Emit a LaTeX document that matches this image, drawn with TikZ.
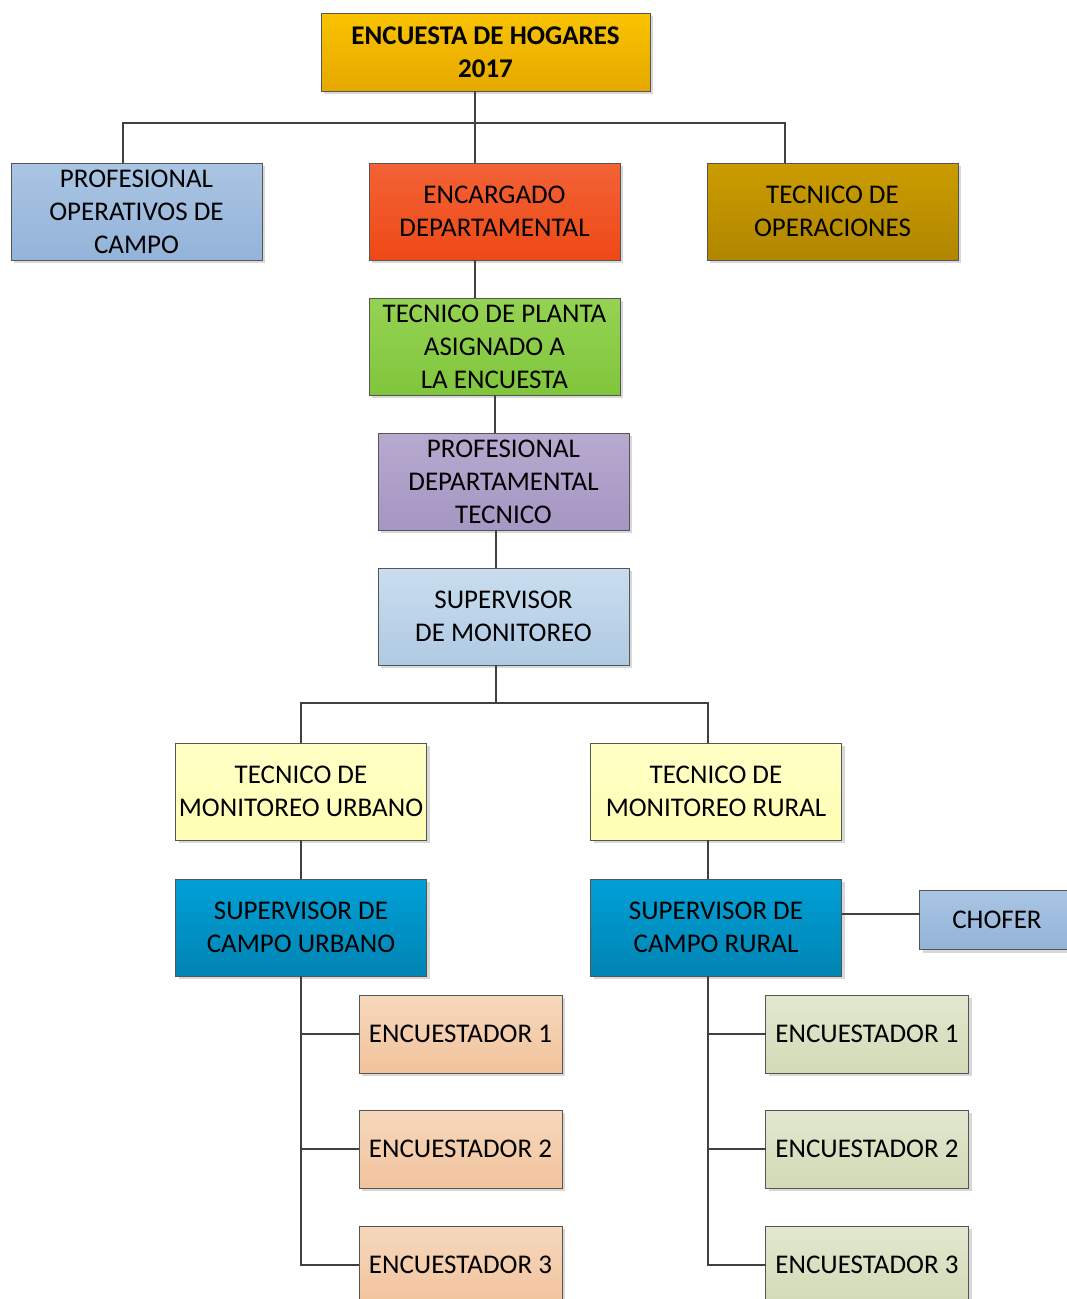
\documentclass[tikz,border=0pt]{standalone}
\usepackage{fontspec}
\setmainfont{Carlito}
\usepackage{xcolor}
\usetikzlibrary{positioning,shadows}

\definecolor{boxline}{HTML}{555555}
\definecolor{linkgray}{HTML}{404040}
\definecolor{goldtop}{HTML}{F9C300}
\definecolor{goldbot}{HTML}{E6A800}
\definecolor{skytop}{HTML}{AAC5E4}
\definecolor{skybot}{HTML}{93B3D8}
\definecolor{redtop}{HTML}{F36236}
\definecolor{redbot}{HTML}{EE4916}
\definecolor{ochretop}{HTML}{CB9C00}
\definecolor{ochrebot}{HTML}{B08600}
\definecolor{greentop}{HTML}{95D253}
\definecolor{greenbot}{HTML}{80C63C}
\definecolor{lilactop}{HTML}{B8A9CF}
\definecolor{lilacbot}{HTML}{A596C3}
\definecolor{palebluetop}{HTML}{CADDEF}
\definecolor{palebluebot}{HTML}{AFCAE3}
\definecolor{creamtop}{HTML}{FFFFC6}
\definecolor{creambot}{HTML}{FFFFB4}
\definecolor{ceruleantop}{HTML}{00A0D7}
\definecolor{ceruleanbot}{HTML}{0084B3}
\definecolor{peachtop}{HTML}{F6D8BD}
\definecolor{peachbot}{HTML}{F2C39C}
\definecolor{sagetop}{HTML}{E1E8CF}
\definecolor{sagebot}{HTML}{D2DAB6}

\begin{document}
\begin{tikzpicture}[
    x=1pt, y=1pt,
    node distance=38pt,
    box/.style={rectangle, draw=boxline, line width=0.8pt, minimum width=251pt, minimum height=97pt,
        outer sep=0pt, align=center, inner sep=1pt, font=\fontsize{27}{33}\selectfont,
        drop shadow={shadow xshift=3pt, shadow yshift=-3pt, fill=black!30}},
    small/.style={box, minimum width=203pt, minimum height=78pt},
    link/.style={draw=linkgray, line width=2pt},
]
    \useasboundingbox (0,0) rectangle (1067,-1299);

    % upper levels
    \node[box, top color=goldtop, bottom color=goldbot, minimum width=329pt, minimum height=78pt,
        font=\bfseries\fontsize{27}{33}\selectfont] (hogares) at (485.5,-52) {ENCUESTA DE HOGARES\\2017};
    \node[box, top color=redtop, bottom color=redbot, below=72pt of hogares, xshift=9pt] (encargado) {ENCARGADO\\DEPARTAMENTAL};
    \node[box, top color=skytop, bottom color=skybot, left=107pt of encargado] (operativos) {PROFESIONAL\\OPERATIVOS DE\\CAMPO};
    \node[box, top color=ochretop, bottom color=ochrebot, right=87pt of encargado] (operaciones) {TECNICO DE\\OPERACIONES};
    \node[box, top color=greentop, bottom color=greenbot, below=of encargado] (planta) {TECNICO DE PLANTA\\ASIGNADO A\\LA ENCUESTA};
    \node[box, top color=lilactop, bottom color=lilacbot, below=of planta, xshift=9pt] (profdep) {PROFESIONAL\\DEPARTAMENTAL\\TECNICO};
    \node[box, top color=palebluetop, bottom color=palebluebot, below=of profdep] (supmon) {SUPERVISOR\\DE MONITOREO};

    % monitoreo
    \node[box, top color=creamtop, bottom color=creambot, below=78pt of supmon, xshift=-202.5pt] (monurb) {TECNICO DE\\MONITOREO URBANO};
    \node[box, top color=creamtop, bottom color=creambot, right=164pt of monurb] (monrur) {TECNICO DE\\MONITOREO RURAL};
    \node[box, top color=ceruleantop, bottom color=ceruleanbot, below=39pt of monurb] (campourb) {SUPERVISOR DE\\CAMPO URBANO};
    \node[box, top color=ceruleantop, bottom color=ceruleanbot, below=39pt of monrur] (camporur) {SUPERVISOR DE\\CAMPO RURAL};
    \node[box, top color=skytop, bottom color=skybot, right=78pt of camporur, yshift=7.5pt,
        minimum width=155pt, minimum height=59pt] (chofer) {CHOFER};

    % encuestadores
    \node[small, top color=peachtop, bottom color=peachbot, below=19pt of campourb, xshift=159.5pt] (encu1) {ENCUESTADOR 1};
    \node[small, top color=peachtop, bottom color=peachbot, below=37pt of encu1] (encu2) {ENCUESTADOR 2};
    \node[small, top color=peachtop, bottom color=peachbot, below=38pt of encu2] (encu3) {ENCUESTADOR 3};
    \node[small, top color=sagetop, bottom color=sagebot, below=19pt of camporur, xshift=151pt] (encr1) {ENCUESTADOR 1};
    \node[small, top color=sagetop, bottom color=sagebot, below=37pt of encr1] (encr2) {ENCUESTADOR 2};
    \node[small, top color=sagetop, bottom color=sagebot, below=38pt of encr2] (encr3) {ENCUESTADOR 3};

    % connectors
    \coordinate[below=32pt of hogares, xshift=-10.5pt] (bus1);
    \draw[link] (hogares.south -| bus1) -- (bus1) -| ([xshift=-13.5pt]operativos.north);
    \draw[link] (bus1) -| ([xshift=-47.5pt]operaciones.north);
    \draw[link] (bus1) -- (bus1 |- encargado.north);
    \draw[link] (encargado.south -| bus1) -- (planta.north -| bus1);
    \draw[link] (planta) -- (planta |- profdep.north);
    \coordinate[below=38pt of supmon, xshift=-7.5pt] (bus2);
    \draw[link] (profdep.south -| bus2) -- (supmon.north -| bus2);
    \draw[link] (supmon.south -| bus2) -- (bus2) -| (monurb);
    \coordinate (rural) at ([xshift=-8.5pt]monrur.north);
    \draw[link] (bus2) -| (rural);
    \draw[link] (monurb) -- (campourb);
    \draw[link] (monrur.south -| rural) -- (camporur.north -| rural);
    \draw[link] ([yshift=6.5pt]chofer.west) -- ([yshift=6.5pt]chofer.west -| camporur.east);
    \draw[link] (campourb) |- (encu1);
    \draw[link] (campourb) |- (encu2);
    \draw[link] (campourb) |- (encu3);
    \draw[link] (camporur.south -| rural) |- (encr1);
    \draw[link] (camporur.south -| rural) |- (encr2);
    \draw[link] (camporur.south -| rural) |- (encr3);
\end{tikzpicture}
\end{document}
